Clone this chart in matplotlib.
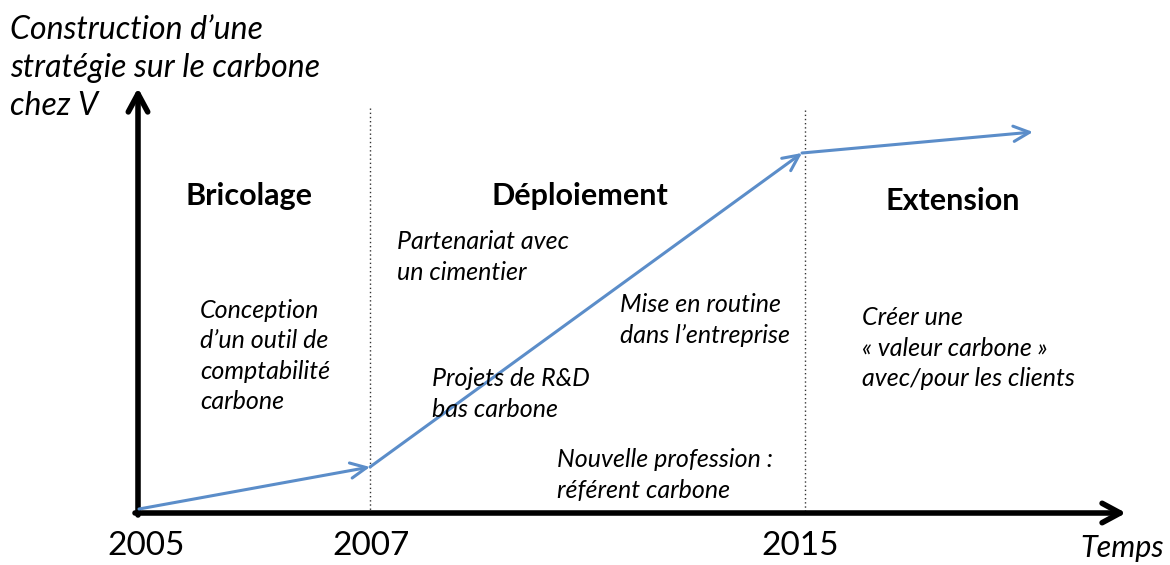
import matplotlib
matplotlib.use("Agg")
import matplotlib.pyplot as plt

plt.rcParams['font.family'] = ['Lato', 'DejaVu Sans']

# canvas works in pixel-like units: x to the right, y downward
W, H = 1170, 565

# strategy curve (positions)
curve_x = [139, 370, 802, 1033]
curve_y = [509, 467, 153, 132]

years = ['2005', '2007', '2015']
year_x = [146, 371, 800]
year_base = 555

phase_names = ['Bricolage', 'Déploiement', 'Extension']
phase_x = [249, 580, 953]
phase_base = [205, 205, 210]

divider_x = [370, 805]
divider_top = [108, 110]

# text, left x, vertical centre of the block
notes = [
    ("Conception\nd\u2019un outil de\ncomptabilité\ncarbone", 200, 356),
    ("Partenariat avec\nun cimentier", 397, 257),
    ("Projets de R&D\nbas carbone", 432, 394),
    ("Mise en routine\ndans l\u2019entreprise", 620, 320),
    ("Nouvelle profession :\nréférent carbone", 557, 475),
    ("Créer une\n« valeur carbone »\navec/pour les clients", 862, 348),
]

fig = plt.figure(figsize=(W / 100, H / 100), dpi=100)
ax = fig.add_axes([0, 0, 1, 1])
ax.set_xlim(0, W)
ax.set_ylim(H, 0)
ax.axis('off')

# axes arrows
axis_arrow = dict(arrowstyle='->,head_length=1.3,head_width=0.7', lw=4,
                  color='black', shrinkA=0, shrinkB=0)
ax.annotate('', xy=(138, 88), xytext=(138, 515), arrowprops=axis_arrow)
ax.annotate('', xy=(1126, 513), xytext=(135, 513), arrowprops=axis_arrow)

# dotted dividers
for x, top in zip(divider_x, divider_top):
    ax.plot([x, x], [top, 511], color='#333333', lw=1.0, ls=(0, (1, 2)))

# curve segments, each with an open arrowhead
for i in range(len(curve_x) - 1):
    ax.annotate('', xy=(curve_x[i + 1], curve_y[i + 1]),
                xytext=(curve_x[i], curve_y[i]),
                arrowprops=dict(arrowstyle='->,head_length=1.15,head_width=0.55',
                                lw=2.2, color='#5B8DC9',
                                shrinkA=0, shrinkB=0))

# y label
ax.text(10, 68, "Construction d\u2019une\nstratégie sur le carbone\nchez V",
        fontsize=23, style='italic', va='center', ha='left',
        linespacing=1.33)

for name, x, y in zip(phase_names, phase_x, phase_base):
    ax.text(x, y, name, fontsize=22, weight='bold', ha='center',
            va='baseline')

for txt, x, y in notes:
    ax.text(x, y, txt, fontsize=18, style='italic', ha='left', va='center',
            linespacing=1.4)

for lab, x in zip(years, year_x):
    ax.text(x, year_base, lab, fontsize=24, ha='center', va='baseline')
ax.text(1080, 557, 'Temps', fontsize=22, style='italic', ha='left',
        va='baseline')

fig.savefig('out.png', dpi=100)
